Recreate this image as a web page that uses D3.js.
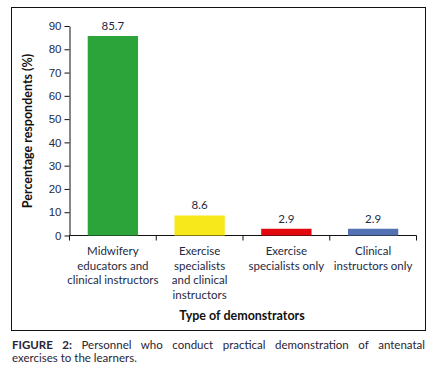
<!DOCTYPE html>
<html>
<head>
<meta charset="utf-8">
<script src="https://cdn.jsdelivr.net/npm/d3@7"></script>
<style>
  body { margin: 0; background: #fff; }
  svg { display: block; font-family: Lato, "Open Sans", sans-serif; }
</style>
</head>
<body>
<div id="chart"></div>
<script>
const categories = [
  ["Midwifery", "educators and", "clinical instructors"],
  ["Exercise", "specialists", "and clinical", "instructors"],
  ["Exercise", "specialists only"],
  ["Clinical", "instructors only"]
];
const values = [85.7, 8.6, 2.9, 2.9];
const barColors = ["#2ca43a", "#f6e81a", "#e1090f", "#5271b3"];
const yTicks = [0, 10, 20, 30, 40, 50, 60, 70, 80, 90];
const yTitle = "Percentage respondents (%)";
const xTitle = "Type of demonstrators";
const captionLead = "FIGURE 2:";
const captionText = "Personnel who conduct practical demonstration of antenatal exercises to the learners.";

const width = 434, height = 374;
const svg = d3.select("#chart").append("svg")
  .attr("width", width).attr("height", height);

// frame
svg.append("rect")
  .attr("x", 11.5).attr("y", 7.5).attr("width", 414).attr("height", 323)
  .attr("fill", "none").attr("stroke", "#111").attr("stroke-width", 1);

const x = d3.scaleBand().domain(d3.range(values.length)).range([69.5, 416.5]).paddingInner(0).paddingOuter(0);
const y = d3.scaleLinear().domain([0, 90]).range([235.5, 26]);

// y axis
const yAxis = svg.append("g").attr("transform", "translate(69.5,0)")
  .call(d3.axisLeft(y).tickValues(yTicks).tickSize(5).tickSizeOuter(0));
yAxis.select(".domain").attr("stroke", "#111");
yAxis.selectAll(".tick line").attr("stroke", "#111");
yAxis.selectAll("text").attr("font-size", 11.5).attr("fill", "#1e2a44").attr("x", -8);

// x axis baseline with ticks at band edges
const xg = svg.append("g");
xg.append("line").attr("x1", x.range()[0]).attr("x2", x.range()[1])
  .attr("y1", y(0)).attr("y2", y(0)).attr("stroke", "#111");
const edges = d3.range(values.length + 1).map(i => i < values.length ? x(i) : x.range()[1]);
xg.selectAll("line.tk").data(edges).join("line").attr("class", "tk")
  .attr("x1", d => d).attr("x2", d => d).attr("y1", y(0)).attr("y2", y(0) + 5).attr("stroke", "#111");

// bars
const barW = x.bandwidth() * 0.58;
svg.selectAll("rect.bar").data(values).join("rect").attr("class", "bar")
  .attr("x", (d, i) => x(i) + (x.bandwidth() - barW) / 2)
  .attr("y", d => y(d))
  .attr("width", barW)
  .attr("height", d => y(0) - y(d))
  .attr("fill", (d, i) => barColors[i]);

// value labels
svg.selectAll("text.val").data(values).join("text").attr("class", "val")
  .attr("x", (d, i) => x(i) + x.bandwidth() / 2)
  .attr("y", d => y(d) - 6)
  .attr("text-anchor", "middle").attr("font-size", 11.5).attr("fill", "#1e2a44")
  .text(d => d.toFixed(1));

// category labels
const cat = svg.selectAll("text.cat").data(categories).join("text").attr("class", "cat")
  .attr("text-anchor", "middle").attr("font-size", 11.5).attr("fill", "#1e2a44");
cat.selectAll("tspan").data((d, i) => d.map(t => ({ t, i }))).join("tspan")
  .attr("x", d => x(d.i) + x.bandwidth() / 2)
  .attr("y", (d, j) => 255 + j * 14.5)
  .text(d => d.t);

// axis titles
svg.append("text")
  .attr("transform", "translate(32,131) rotate(-90)")
  .attr("text-anchor", "middle").attr("font-size", 12.5).attr("font-weight", "bold").attr("fill", "#111")
  .text(yTitle);
svg.append("text")
  .attr("x", 242).attr("y", 320)
  .attr("text-anchor", "middle").attr("font-size", 12.5).attr("font-weight", "bold").attr("fill", "#111")
  .text(xTitle);

// caption, first line justified
const capX = 12, capW = 413;
const words = captionText.split(" ");
const firstLineWords = words.slice(0, 7);
const restWords = words.slice(7);
const cap1 = svg.append("text").attr("x", capX).attr("y", 349).attr("font-size", 11.5).attr("fill", "#2a2433");
cap1.append("tspan").attr("font-weight", "bold").text(captionLead);
cap1.append("tspan").text(" " + firstLineWords.join(" "));
const natural = cap1.node().getComputedTextLength();
const gaps = firstLineWords.length + 1;
cap1.attr("word-spacing", Math.max(0, (capW - natural) / gaps));
svg.append("text").attr("x", capX).attr("y", 362).attr("font-size", 11.5).attr("fill", "#2a2433")
  .text(restWords.join(" "));
</script>
</body>
</html>
